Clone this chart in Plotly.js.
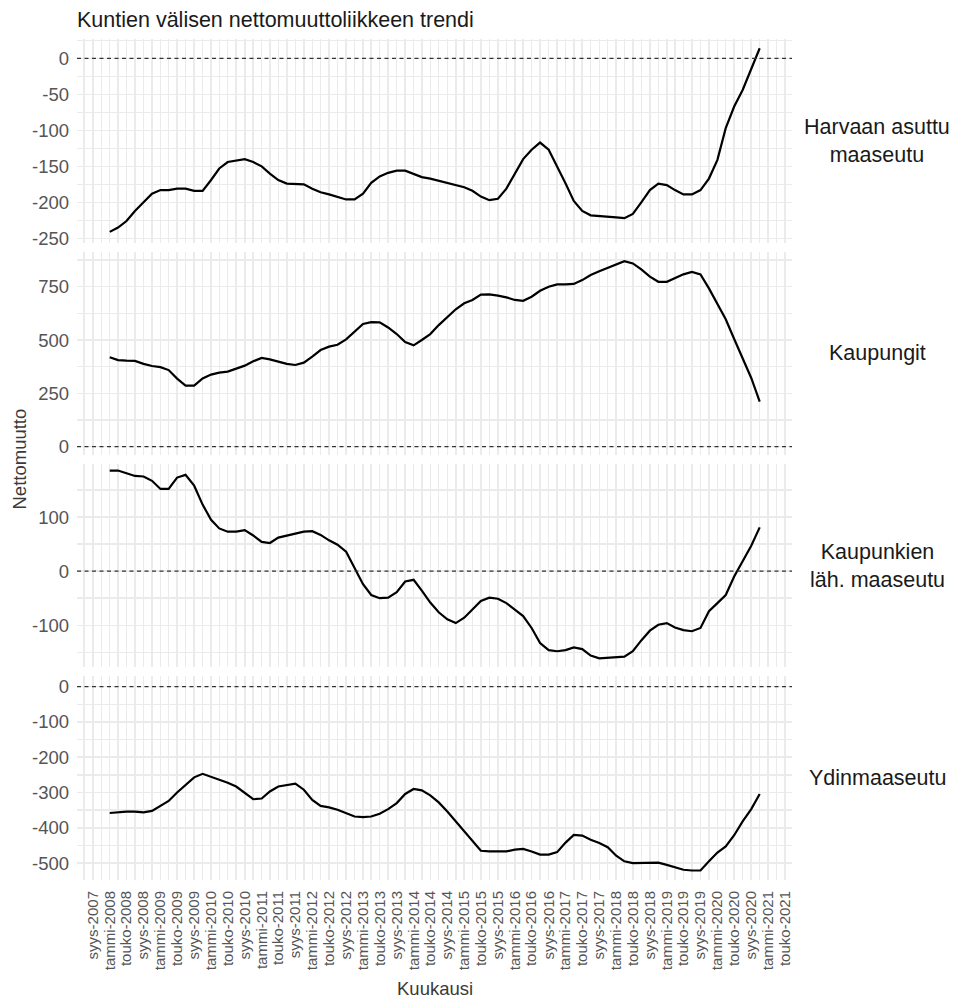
<!DOCTYPE html>
<html>
<head>
<meta charset="utf-8">
<script src="https://cdn.plot.ly/plotly-3.0.1.min.js"></script>
<style>
  html, body { margin: 0; padding: 0; background: #ffffff; }
  #chart { width: 955px; height: 998px; }
</style>
</head>
<body>
<div id="chart"></div>
<script>
// Months (every second month, Jan 2008 - Nov 2020)
const months = [
  "2008-01","2008-03","2008-05","2008-07","2008-09","2008-11",
  "2009-01","2009-03","2009-05","2009-07","2009-09","2009-11",
  "2010-01","2010-03","2010-05","2010-07","2010-09","2010-11",
  "2011-01","2011-03","2011-05","2011-07","2011-09","2011-11",
  "2012-01","2012-03","2012-05","2012-07","2012-09","2012-11",
  "2013-01","2013-03","2013-05","2013-07","2013-09","2013-11",
  "2014-01","2014-03","2014-05","2014-07","2014-09","2014-11",
  "2015-01","2015-03","2015-05","2015-07","2015-09","2015-11",
  "2016-01","2016-03","2016-05","2016-07","2016-09","2016-11",
  "2017-01","2017-03","2017-05","2017-07","2017-09","2017-11",
  "2018-01","2018-03","2018-05","2018-07","2018-09","2018-11",
  "2019-01","2019-03","2019-05","2019-07","2019-09","2019-11",
  "2020-01","2020-03","2020-05","2020-07","2020-09","2020-11"
];

// Panel names
const panelNames = ["Harvaan asuttu<br>maaseutu", "Kaupungit", "Kaupunkien<br>läh. maaseutu", "Ydinmaaseutu"];

// Series values
const harvaanAsuttu = [
  -241,-235,-226,-212,-200,-188,-183,-183,-181,-181,-184,-184,
  -169,-153,-144,-142,-140,-144,-150,-160,-169,-174,-174,-175,
  -181,-186,-189,-192,-196,-196,-188,-173,-164,-159,-156,-156,
  -161,-165,-167,-170,-174,-176,-179,-184,-192,-197,-195,-181,
  -160,-140,-127,-117,-127,-150,-174,-198,-212,-218,-219,-219,
  -221,-222,-216,-200,-183,-174,-176,-183,-189,-189,-183,-167,
  -141,-97,-67,-44,-14,14
];
const kaupungit = [
  419,406,403,402,388,378,373,359,319,286,286,320,
  338,347,352,367,380,400,416,409,397,388,383,394,
  422,453,469,478,503,539,575,584,583,559,528,491,
  475,500,528,570,606,644,672,688,713,714,708,700,
  688,684,703,731,750,761,761,763,781,805,823,839,
  856,870,859,831,797,773,773,789,808,819,808,742,
  670,597,505,414,322,211
];
const kaupunkienLah = [
  186,186,181,176,175,167,152,152,173,178,158,123,
  95,79,73,73,76,66,54,52,62,66,69,73,
  74,67,57,49,36,6,-24,-44,-50,-49,-39,-19,
  -16,-36,-58,-76,-89,-96,-86,-71,-55,-49,-51,-59,
  -71,-83,-105,-133,-146,-148,-146,-141,-144,-156,-161,-160,
  -159,-158,-148,-128,-110,-99,-96,-104,-109,-111,-105,-74,
  -59,-44,-10,19,47,81
];
const ydinmaaseutu = [
  -358,-355,-354,-354,-356,-352,-338,-324,-300,-278,-257,-247,
  -255,-262,-272,-283,-300,-319,-317,-297,-283,-279,-275,-292,
  -321,-338,-342,-349,-358,-368,-370,-368,-360,-347,-330,-304,
  -290,-294,-308,-328,-354,-382,-408,-436,-465,-467,-467,-467,
  -462,-460,-467,-476,-476,-469,-442,-420,-422,-434,-443,-455,
  -479,-495,-500,-500,-500,-499,-505,-511,-519,-521,-521,-495,
  -470,-453,-421,-382,-347,-304
];

// X tick positions and labels
const tickDates = [
  "2007-09-01","2008-01-01","2008-05-01","2008-09-01","2009-01-01","2009-05-01","2009-09-01",
  "2010-01-01","2010-05-01","2010-09-01","2011-01-01","2011-05-01","2011-09-01",
  "2012-01-01","2012-05-01","2012-09-01","2013-01-01","2013-05-01","2013-09-01",
  "2014-01-01","2014-05-01","2014-09-01","2015-01-01","2015-05-01","2015-09-01",
  "2016-01-01","2016-05-01","2016-09-01","2017-01-01","2017-05-01","2017-09-01",
  "2018-01-01","2018-05-01","2018-09-01","2019-01-01","2019-05-01","2019-09-01",
  "2020-01-01","2020-05-01","2020-09-01","2021-01-01","2021-05-01"
];
const tickLabels = [
  "syys-2007","tammi-2008","touko-2008","syys-2008","tammi-2009","touko-2009","syys-2009",
  "tammi-2010","touko-2010","syys-2010","tammi-2011","touko-2011","syys-2011",
  "tammi-2012","touko-2012","syys-2012","tammi-2013","touko-2013","syys-2013",
  "tammi-2014","touko-2014","syys-2014","tammi-2015","touko-2015","syys-2015",
  "tammi-2016","touko-2016","syys-2016","tammi-2017","touko-2017","syys-2017",
  "tammi-2018","touko-2018","syys-2018","tammi-2019","touko-2019","syys-2019",
  "tammi-2020","touko-2020","syys-2020","tammi-2021","touko-2021"
];

// Y tick values and labels per panel
const yTickVals = [
  [0, -50, -100, -150, -200, -250],
  [0, 250, 500, 750],
  [-100, 0, 100],
  [0, -100, -200, -300, -400, -500]
];
const yTickText = [
  ["0", "-50", "-100", "-150", "-200", "-250"],
  ["0", "250", "500", "750"],
  ["-100", "0", "100"],
  ["0", "-100", "-200", "-300", "-400", "-500"]
];

const series = [harvaanAsuttu, kaupungit, kaupunkienLah, ydinmaaseutu];

const FONT = "Liberation Sans, Arial, sans-serif";
const GRID = "#ebebeb";
const TICKC = "#555555";

const traces = series.map((vals, i) => ({
  type: "scatter",
  mode: "lines",
  x: months,
  y: vals,
  xaxis: i === 0 ? "x" : "x" + (i + 1),
  yaxis: i === 0 ? "y" : "y" + (i + 1),
  line: { color: "#000000", width: 2.2 },
  hoverinfo: "skip",
  showlegend: false
}));

const domains = [[0.758, 1.0], [0.5054, 0.7473], [0.2527, 0.4946], [0.0, 0.2420]];
const ranges = [[-255.8, 26.8], [-39, 915], [-178, 198], [-548, 29]];
const dticks = [50, 250, 100, 100];

const layout = {
  width: 955,
  height: 998,
  paper_bgcolor: "#ffffff",
  plot_bgcolor: "#ffffff",
  margin: { l: 77, r: 163, t: 39, b: 118 },
  font: { family: FONT, color: TICKC },
  showlegend: false,
  title: {
    text: "Kuntien välisen nettomuuttoliikkeen trendi",
    font: { family: FONT, size: 21.5, color: "#1a1a1a" },
    x: 77 / 955, xanchor: "left", xref: "container",
    y: 1 - 19.5 / 998, yanchor: "middle", yref: "container"
  },
  shapes: [],
  annotations: []
};

for (let i = 0; i < 4; i++) {
  const xk = i === 0 ? "xaxis" : "xaxis" + (i + 1);
  const yk = i === 0 ? "yaxis" : "yaxis" + (i + 1);
  const yid = i === 0 ? "y" : "y" + (i + 1);
  layout[xk] = {
    type: "date",
    domain: [0, 1],
    anchor: yid,
    range: ["2007-05-10", "2021-06-22"],
    tickmode: "array",
    tickvals: tickDates,
    ticktext: tickLabels,
    showticklabels: i === 3,
    tickangle: -90,
    tickfont: { family: FONT, size: 15, color: TICKC },
    ticks: "",
    ticklabelstandoff: 7,
    showgrid: true,
    gridcolor: GRID,
    gridwidth: 1.5,
    minor: { dtick: "M2", tick0: "2007-07-01", showgrid: true, gridcolor: GRID, gridwidth: 1.5 },
    zeroline: false,
    showline: false,
    fixedrange: true
  };
  if (i > 0) layout[xk].matches = "x";
  layout[yk] = {
    domain: domains[i],
    anchor: i === 0 ? "x" : "x" + (i + 1),
    range: ranges[i],
    tickmode: "array",
    tickvals: yTickVals[i],
    ticktext: yTickText[i],
    tickfont: { family: FONT, size: 18.5, color: TICKC },
    ticks: "",
    ticklabelstandoff: 7,
    showgrid: true,
    gridcolor: GRID,
    gridwidth: 1.5,
    minor: { tickmode: "linear", tick0: 0, dtick: dticks[i] / 2, showgrid: true, gridcolor: GRID, gridwidth: 1.5 },
    zeroline: false,
    showline: false,
    fixedrange: true
  };
  layout.shapes.push({
    type: "line", xref: "paper", x0: 0, x1: 1,
    yref: yid, y0: 0, y1: 0,
    line: { color: "#333333", width: 1.2, dash: "4px,3.5px" },
    layer: "above"
  });
  layout.annotations.push({
    text: panelNames[i],
    xref: "paper", yref: "paper",
    x: (877 - 77) / 715, y: (domains[i][0] + domains[i][1]) / 2,
    xanchor: "center", yanchor: "middle",
    showarrow: false,
    font: { family: FONT, size: 21.5, color: "#1a1a1a" },
    align: "center"
  });
}

layout.annotations.push({
  text: "Nettomuutto",
  xref: "paper", yref: "paper",
  x: (19 - 77) / 715, y: 0.5,
  xanchor: "center", yanchor: "middle",
  textangle: -90,
  showarrow: false,
  font: { family: FONT, size: 18.5, color: "#3a3a3a" }
});
layout.annotations.push({
  text: "Kuukausi",
  xref: "paper", yref: "paper",
  x: (435 - 77) / 715, y: (880 - 988) / 841,
  xanchor: "center", yanchor: "middle",
  showarrow: false,
  font: { family: FONT, size: 18.5, color: "#3a3a3a" }
});

Plotly.newPlot("chart", traces, layout, { displayModeBar: false, staticPlot: true });
</script>
</body>
</html>
